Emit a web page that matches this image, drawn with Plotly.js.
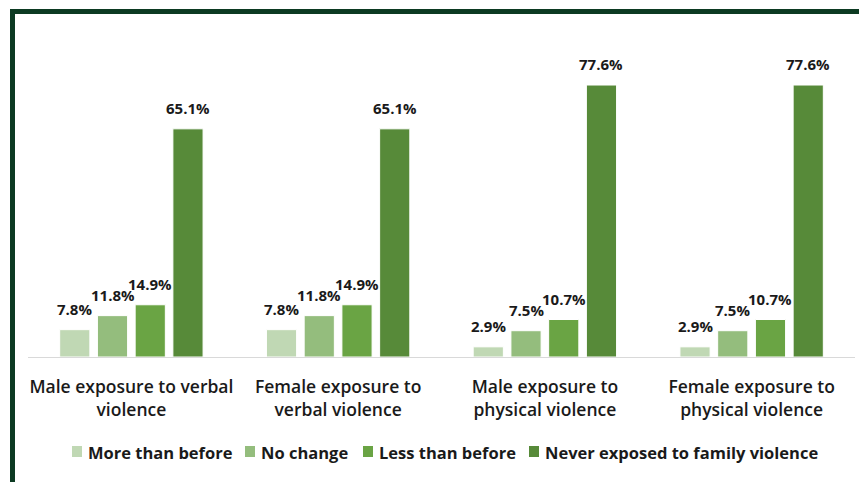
<!DOCTYPE html>
<html>
<head>
<meta charset="utf-8">
<script src="https://cdn.plot.ly/plotly-3.0.1.min.js"></script>
<style>
html,body{margin:0;padding:0;background:#fff;}
#wrap{position:relative;width:859px;height:482px;overflow:hidden;}
#chart{position:absolute;left:0;top:0;width:859px;height:482px;}
#frame{position:absolute;left:10px;top:9px;width:900px;height:500px;border-top:5px solid #0c3a22;border-left:5px solid #0c3a22;pointer-events:none;z-index:5;}
</style>
</head>
<body>
<div id="wrap"><div id="chart"></div><div id="frame"></div></div>
<script>
const categories = ["Male exposure to verbal<br>violence", "Female exposure to<br>verbal violence", "Male exposure to<br>physical violence", "Female exposure to<br>physical violence"];
const seriesNames = ["More than before", "No change", "Less than before", "Never exposed to family violence"];
const moreThanBefore = [7.8, 7.8, 2.9, 2.9];
const noChange = [11.8, 11.8, 7.5, 7.5];
const lessThanBefore = [14.9, 14.9, 10.7, 10.7];
const neverExposed = [65.1, 65.1, 77.6, 77.6];
const colors = ["#c0d8b4", "#94bd7d", "#6aa444", "#578a39"];

const values = [moreThanBefore, noChange, lessThanBefore, neverExposed];
const BARGAP = 0.27;
const FONT = "Open Sans, sans-serif";

const traces = values.map((v, i) => ({
  type: "bar",
  name: seriesNames[i],
  x: categories,
  y: v,
  marker: {color: colors[i], line: {color: "#ffffff", width: 1}},
  hoverinfo: "none",
  showlegend: false
}));

// data labels above bars, placed via the category axis
const annotations = [];
const slot = (1 - BARGAP) / values.length;
values.forEach((v, j) => {
  v.forEach((d, i) => {
    annotations.push({
      x: i + (j - (values.length - 1) / 2) * slot,
      y: d, xref: "x", yref: "y",
      text: d.toFixed(1) + "%",
      showarrow: false, yanchor: "bottom", xanchor: "center", yshift: 9,
      font: {family: FONT, size: 15, color: "#1a1a1a", weight: 700}
    });
  });
});

// legend (custom, to match compact spacing)
const PLOT_L = 28, PLOT_W = 827, PLOT_B = 357, PLOT_H = 327;
const px = p => (p - PLOT_L) / PLOT_W;
const py = p => (PLOT_B - p) / PLOT_H;
const legendSquareX = [72, 245, 363, 529];
const shapes = [];
seriesNames.forEach((n, j) => {
  shapes.push({
    type: "rect", xref: "paper", yref: "paper",
    x0: px(legendSquareX[j]), x1: px(legendSquareX[j] + 10),
    y0: py(457), y1: py(446),
    fillcolor: colors[j], line: {width: 0}
  });
  annotations.push({
    x: px(legendSquareX[j] + 14), y: py(452), xref: "paper", yref: "paper",
    text: n, showarrow: false, xanchor: "left", yanchor: "middle",
    font: {family: FONT, size: 16.5, color: "#1a1a1a", weight: 700}
  });
});

const layout = {
  width: 859, height: 482,
  margin: {l: PLOT_L, r: 859 - PLOT_L - PLOT_W, t: PLOT_B - PLOT_H, b: 482 - PLOT_B, pad: 0},
  paper_bgcolor: "#ffffff",
  plot_bgcolor: "#ffffff",
  barmode: "group",
  bargap: BARGAP,
  bargroupgap: 0.2,
  font: {family: FONT, color: "#1a1a1a"},
  xaxis: {
    showline: true, linecolor: "#d9d9d9", linewidth: 1,
    ticks: "", showgrid: false,
    tickfont: {family: FONT, size: 17.5, color: "#1a1a1a", weight: 600},
    ticklabelstandoff: 14
  },
  yaxis: {range: [0, 93.3], visible: false, showgrid: false, zeroline: false},
  showlegend: false,
  annotations: annotations,
  shapes: shapes
};

Plotly.newPlot("chart", traces, layout, {displayModeBar: false, staticPlot: true});
</script>
</body>
</html>
